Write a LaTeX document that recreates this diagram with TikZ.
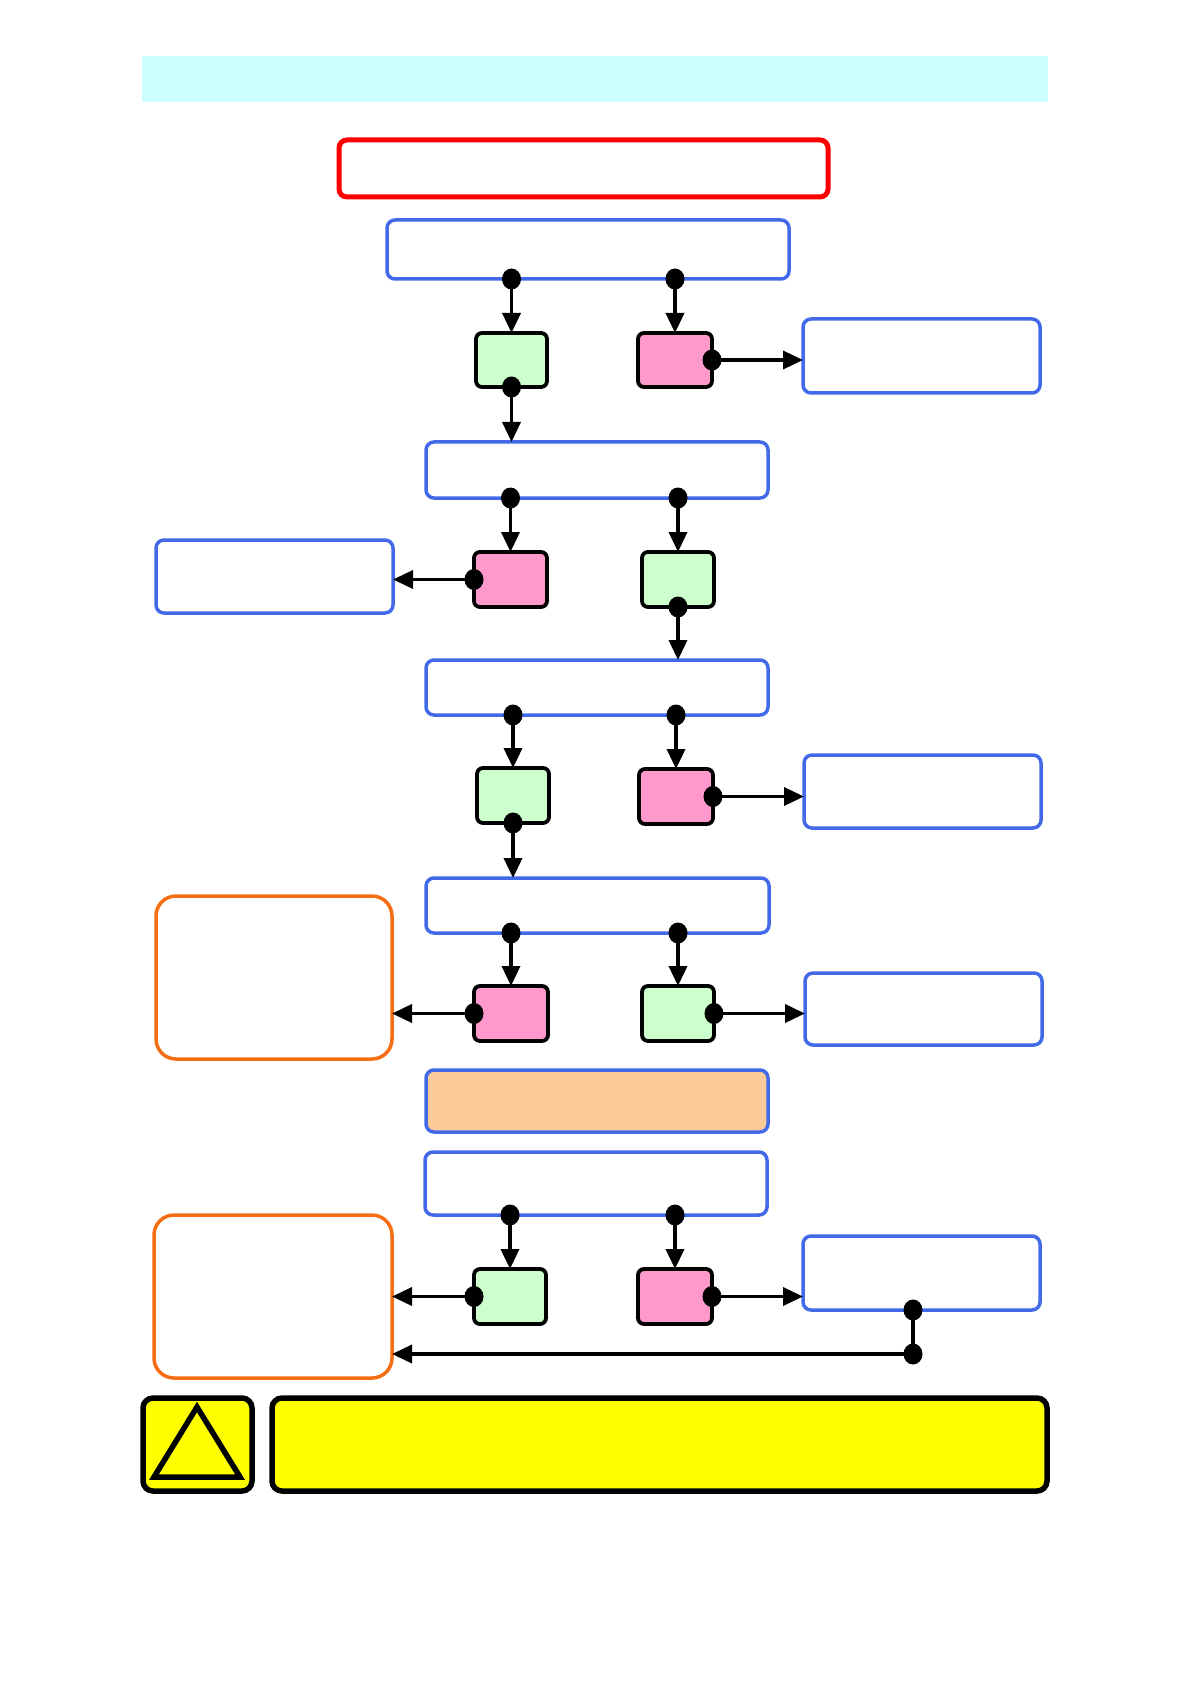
\documentclass[tikz,border=0pt]{standalone}
\usetikzlibrary{arrows.meta,calc}
\definecolor{bblue}{RGB}{65,105,232}
\definecolor{gfill}{RGB}{204,255,204}
\definecolor{pfill}{RGB}{255,153,204}
\definecolor{peach}{RGB}{253,203,154}
\definecolor{cyanbar}{RGB}{204,255,255}
\definecolor{oline}{RGB}{245,110,20}
\definecolor{yfill}{RGB}{255,255,0}
\newcommand\dotat[1]{\fill[black] #1 ellipse [x radius=4.75pt, y radius=5.25pt];}
\tikzset{
  sz/.style 2 args={minimum width=#1*0.5pt, minimum height=#2*0.5pt},
  base/.style={rectangle, inner sep=0pt, outer sep=0pt},
  bluebox/.style={base, draw=bblue, line width=1.75pt, rounded corners=4pt, fill=white},
  peachbox/.style={base, draw=bblue, line width=1.75pt, rounded corners=4pt, fill=peach},
  redbox/.style={base, draw=red, line width=2.5pt, rounded corners=4pt},
  orangebox/.style={base, draw=oline, line width=1.75pt, rounded corners=10pt},
  greenbox/.style={base, draw=black, line width=1.9pt, rounded corners=3pt, fill=gfill},
  pinkbox/.style={base, draw=black, line width=1.9pt, rounded corners=3pt, fill=pfill},
  yellowbox/.style={base, draw=black, line width=2.75pt, rounded corners=5pt, fill=yfill},
  bar/.style={base, fill=cyanbar},
  conn/.style={draw=black, line width=1.8pt, -{Triangle[length=10pt,width=9pt]}},
  plain/.style={draw=black, line width=1.8pt},
}
\begin{document}
\begin{tikzpicture}[x=0.5pt,y=-0.5pt]
\useasboundingbox (0,0) rectangle (1190,1684);
\node[bar, sz={906}{46}] (title) at (595,79) {};
\node[redbox, sz={489}{57}] (head) at (583.5,168.5) {};
\node[bluebox, sz={402}{59}] (b1) at (588,249.5) {};
\node[greenbox, sz={71}{54}] (g1) at (511.5,360) {};
\node[pinkbox, sz={74}{54}] (p1) at (675,360) {};
\node[bluebox, sz={237}{74}] (r1) at (921.5,356) {};
\node[bluebox, sz={342}{56}] (b2) at (597,470) {};
\node[pinkbox, sz={73}{55}] (p2) at (510.5,579.5) {};
\node[bluebox, sz={237}{73}] (l2) at (274.5,576.5) {};
\node[greenbox, sz={72}{55}] (g2) at (678,579.5) {};
\node[bluebox, sz={342}{55}] (b3) at (597,687.5) {};
\node[greenbox, sz={72}{55}] (g3) at (513,795.5) {};
\node[pinkbox, sz={74}{55}] (p3) at (676,796.5) {};
\node[bluebox, sz={237}{73}] (r3) at (922.5,791.5) {};
\node[bluebox, sz={343}{55}] (b4) at (597.5,905.5) {};
\node[pinkbox, sz={74}{55}] (p4) at (511,1013.5) {};
\node[orangebox, sz={236}{163}] (o1) at (274,977.5) {};
\node[greenbox, sz={72}{55}] (g4) at (678,1013.5) {};
\node[bluebox, sz={237}{72}] (r4) at (923.5,1009) {};
\node[peachbox, sz={342}{62}] (pe) at (597,1101) {};
\node[bluebox, sz={342}{63}] (b5) at (596,1183.5) {};
\node[greenbox, sz={72}{55}] (g5) at (510,1296.5) {};
\node[pinkbox, sz={74}{55}] (p5) at (675,1296.5) {};
\node[bluebox, sz={237}{74}] (r5) at (921.5,1273) {};
\node[orangebox, sz={238}{163}] (o2) at (273,1296.5) {};
\node[yellowbox, sz={109}{93}] (tb) at (197.5,1444.5) {};
\node[yellowbox, sz={775}{93}] (yb) at (659.5,1444.5) {};
\draw[black, line width=2.75pt, line join=miter] (197,1407) -- (240,1477) -- (154,1477) -- cycle;
% row 1
\draw[conn] (g1.north |- b1.south) -- (g1.north);
\draw[conn] (p1.north |- b1.south) -- (p1.north);
\draw[conn] (p1.east) -- (p1.east -| r1.west);
\draw[conn] (g1.south) -- (g1.south |- b2.north);
\dotat{(g1.north |- b1.south)}
\dotat{(p1.north |- b1.south)}
\dotat{(p1.east)}
\dotat{(g1.south)}
% row 2
\draw[conn] (p2.north |- b2.south) -- (p2.north);
\draw[conn] (g2.north |- b2.south) -- (g2.north);
\draw[conn] (p2.west) -- (p2.west -| l2.east);
\draw[conn] (g2.south) -- (g2.south |- b3.north);
\dotat{(p2.north |- b2.south)}
\dotat{(g2.north |- b2.south)}
\dotat{(p2.west)}
\dotat{(g2.south)}
% row 3
\draw[conn] (g3.north |- b3.south) -- (g3.north);
\draw[conn] (p3.north |- b3.south) -- (p3.north);
\draw[conn] (p3.east) -- (p3.east -| r3.west);
\draw[conn] (g3.south) -- (g3.south |- b4.north);
\dotat{(g3.north |- b3.south)}
\dotat{(p3.north |- b3.south)}
\dotat{(p3.east)}
\dotat{(g3.south)}
% row 4
\draw[conn] (p4.north |- b4.south) -- (p4.north);
\draw[conn] (g4.north |- b4.south) -- (g4.north);
\draw[conn] (p4.west) -- (p4.west -| o1.east);
\draw[conn] (g4.east) -- (g4.east -| r4.west);
\dotat{(p4.north |- b4.south)}
\dotat{(g4.north |- b4.south)}
\dotat{(p4.west)}
\dotat{(g4.east)}
% row 5
\draw[conn] (g5.north |- b5.south) -- (g5.north);
\draw[conn] (p5.north |- b5.south) -- (p5.north);
\draw[conn] (g5.west) -- (g5.west -| o2.east);
\draw[conn] (p5.east) -- (p5.east -| r5.west);
\coordinate (kn) at ([xshift=-4.25pt]r5.south);
\coordinate (turn) at ($(kn)+(0,44)$);
\draw[plain] (kn) -- (turn);
\draw[conn] (turn) -- (turn -| o2.east);
\dotat{(g5.north |- b5.south)}
\dotat{(p5.north |- b5.south)}
\dotat{(g5.west)}
\dotat{(p5.east)}
\dotat{(kn)}
\dotat{(turn)}
\end{tikzpicture}
\end{document}
